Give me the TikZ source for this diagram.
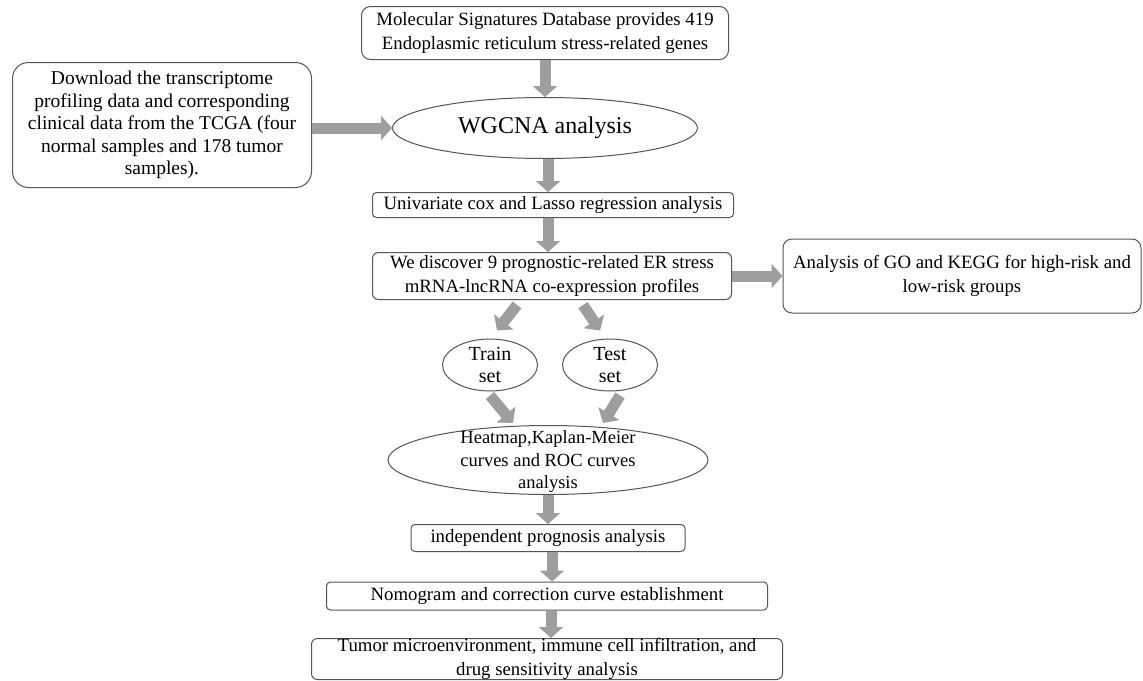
\documentclass[tikz,border=0pt]{standalone}
\usepackage{fontspec}
\setmainfont{Liberation Serif}
\usetikzlibrary{shapes.geometric,arrows.meta,calc}
\definecolor{arrowgray}{RGB}{158,158,158}
\definecolor{edgegray}{RGB}{85,85,85}
\begin{document}
\begin{tikzpicture}[x=1pt,y=-1pt,
  txt/.style={font=\fontsize{18.8}{23.5}\selectfont},
  box/.style={draw=edgegray,line width=1pt,rounded corners=6pt,align=center,inner sep=0pt,txt},
  oval/.style={draw=edgegray,line width=1pt,ellipse,inner sep=0pt},
  flow/.style={draw=arrowgray,line width=11pt,-{Triangle[length=11pt,width=24pt]}}
]
\useasboundingbox (0,0) rectangle (1143,680);
\fill[white] (0,0) rectangle (1143,680);

\node[box,minimum width=367pt,minimum height=53pt,rounded corners=9pt] (msig) at (545,33)
  {Molecular Signatures Database provides 419\\Endoplasmic reticulum stress-related genes};
\node[box,minimum width=299pt,minimum height=125pt,rounded corners=16pt,
  font=\fontsize{19.5}{22.5}\selectfont] (tcga) at (162,125)
  {Download the transcriptome\\profiling data and corresponding\\clinical data from the TCGA (four\\normal samples and 178 tumor\\samples).};
\node[oval,minimum width=305pt,minimum height=61pt,
  label={[font=\fontsize{24}{26}\selectfont]center:WGCNA analysis}] (wgcna) at (545,128) {};
\node[box,minimum width=361pt,minimum height=25pt,rounded corners=4pt] (cox) at (553,205)
  {Univariate cox and Lasso regression analysis};
\node[box,minimum width=359pt,minimum height=47pt] (disc) at (552,276)
  {We discover 9 prognostic-related ER stress\\mRNA-lncRNA co-expression profiles};
\node[box,minimum width=358pt,minimum height=74pt,rounded corners=9pt] (go) at (962,276)
  {Analysis of GO and KEGG for high-risk and\\low-risk groups};
\node[oval,minimum width=95pt,minimum height=52pt,
  label={[align=center,font=\fontsize{20}{21.5}\selectfont]center:Train\\set}] (train) at (490,365) {};
\node[oval,minimum width=95pt,minimum height=52pt,
  label={[align=center,font=\fontsize{20}{21.5}\selectfont]center:Test\\set}] (test) at (610,365) {};
\node[oval,minimum width=320pt,minimum height=69pt,
  label={[align=center,font=\fontsize{18.5}{22.5}\selectfont,yshift=-2pt]center:Heatmap,Kaplan-Meier\\curves and ROC curves\\analysis}] (heat) at (548,460) {};
\node[box,minimum width=274pt,minimum height=27pt,rounded corners=4pt] (indep) at (548,538)
  {independent prognosis analysis};
\node[box,minimum width=441pt,minimum height=28pt,rounded corners=4pt] (nomo) at (547,596)
  {Nomogram and correction curve establishment};
\node[box,minimum width=471pt,minimum height=41pt,rounded corners=6pt] (tme) at (547,659)
  {Tumor microenvironment, immune cell infiltration, and\\drug sensitivity analysis};

\coordinate (wS) at ($(wgcna.south)+(3,0)$);
\coordinate (cS) at ($(cox.south)+(-5,0)$);
\coordinate (iS) at ($(indep.south)+(4,0)$);
\coordinate (nS) at ($(nomo.south)+(4,0)$);

\draw[flow] (msig.south) -- (wgcna.north);
\draw[flow] (tcga.east |- wgcna.west) -- (wgcna.west);
\draw[flow] (wS) -- (wS |- cox.north);
\draw[flow] (cS) -- (cS |- disc.north);
\draw[flow] (disc.east) -- (disc.east -| go.west);
\draw[flow] ($(disc.south)+(-35,5)$) -- ($(train.north)+(7,-8)$);
\draw[flow] ($(disc.south)+(31,5)$) -- ($(test.north)+(-10,-8)$);
\draw[flow] ($(train.south)+(0,4)$) -- ($(heat.north)+(-35,-2)$);
\draw[flow] ($(test.south)+(10,4)$) -- ($(heat.north)+(55,-2)$);
\draw[flow] (heat.south) -- (indep.north);
\draw[flow] (iS) -- (iS |- nomo.north);
\draw[flow] (nS) -- (nS |- tme.north);
\end{tikzpicture}
\end{document}
